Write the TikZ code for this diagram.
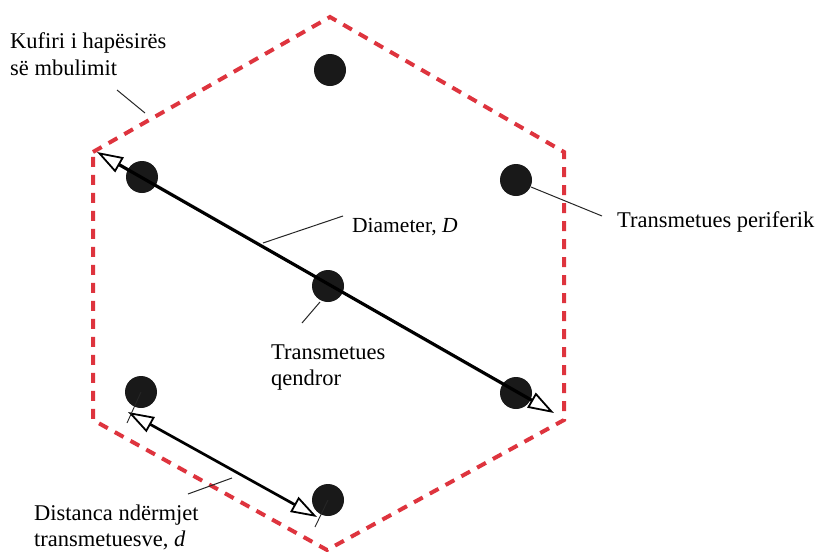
\documentclass[tikz,border=0pt]{standalone}
\usepackage{fontspec}
\setmainfont{Liberation Serif}
\usetikzlibrary{arrows.meta}
\definecolor{hexred}{RGB}{222,52,62}
\tikzset{
  dot/.style={circle,fill=black!90,inner sep=0pt,minimum size=32pt},
  hexline/.style={draw=hexred,line width=4pt,dash pattern=on 10pt off 8pt},
  lead/.style={draw=black!85,line width=1pt},
  tick/.style={draw=black!85,line width=0.9pt},
  bigarrow/.style={draw=black,line width=3.2pt,
    {Triangle[length=26pt,width=17pt,fill=white,line width=1.8pt]}-{Triangle[length=26pt,width=17pt,fill=white,line width=1.8pt]}},
  lbl/.style={anchor=west,inner sep=0pt,font=\fontsize{22.5}{27}\selectfont,align=left},
}
\begin{document}
\begin{tikzpicture}[x=1pt,y=-1pt]
\useasboundingbox (0,0) rectangle (820,552);
% hexagon
\coordinate (vT) at (330,17);
\coordinate (vUR) at (564,152);
\coordinate (vLR) at (564,420);
\coordinate (vB) at (327,550);
\coordinate (vLL) at (93,420);
\coordinate (vUL) at (93,152);
\draw[hexline] (vUL) -- (vT) -- (vUR) -- (vLR) -- (vB) -- (vLL) -- cycle;
% dots
\node[dot] (dT) at (330,70) {};
\node[dot] (dUL) at (142,177) {};
\node[dot] (dUR) at (516,180) {};
\node[dot] (dC) at (328,286) {};
\node[dot] (dLL) at (141,392) {};
\node[dot] (dLR) at (516,393) {};
\node[dot] (dB) at (328,500) {};
% diameter arrow
\coordinate (aUL) at (97,152);
\coordinate (aLR) at (554,413);
\draw[bigarrow] (aUL) -- (aLR);
% distance arrow
\coordinate (dA) at (128,412);
\coordinate (dBb) at (317,517);
\draw[bigarrow,line width=2.7pt] (dA) -- (dBb);
% ticks
\coordinate (tLL) at (127,423);
\coordinate (tB) at (315,527);
\draw[tick] (dLL.center) -- (tLL);
\draw[tick] (dB.center) -- (tB);
% labels
\node[lbl] (lK) at (10,54) {Kufiri i hapësirës\\së mbulimit};
\node[lbl,font=\fontsize{21.5}{26}\selectfont] (lD) at (352,227) {Diameter, \textit{D}};
\node[lbl,font=\fontsize{22.5}{26}\selectfont] (lC) at (271,368) {Transmetues\\qendror};
\node[lbl] (lP) at (617,222) {Transmetues periferik};
\node[lbl,font=\fontsize{22.5}{26}\selectfont] (lDist) at (34,527) {Distanca ndërmjet\\transmetuesve, \textit{d}};
% leaders
\coordinate (kA) at (117,90);
\coordinate (kB) at (145,113);
\draw[lead] (kA) -- (kB);
\coordinate (diA) at (263,243);
\coordinate (diB) at (343,216);
\draw[lead] (diA) -- (diB);
\coordinate (cA) at (320,302);
\coordinate (cB) at (302,323);
\draw[lead] (cA) -- (cB);
\coordinate (pA) at (531,187);
\coordinate (pB) at (602,216);
\draw[lead] (pA) -- (pB);
\coordinate (sA) at (188,494);
\coordinate (sB) at (232,478);
\draw[lead] (sA) -- (sB);
\end{tikzpicture}
\end{document}
